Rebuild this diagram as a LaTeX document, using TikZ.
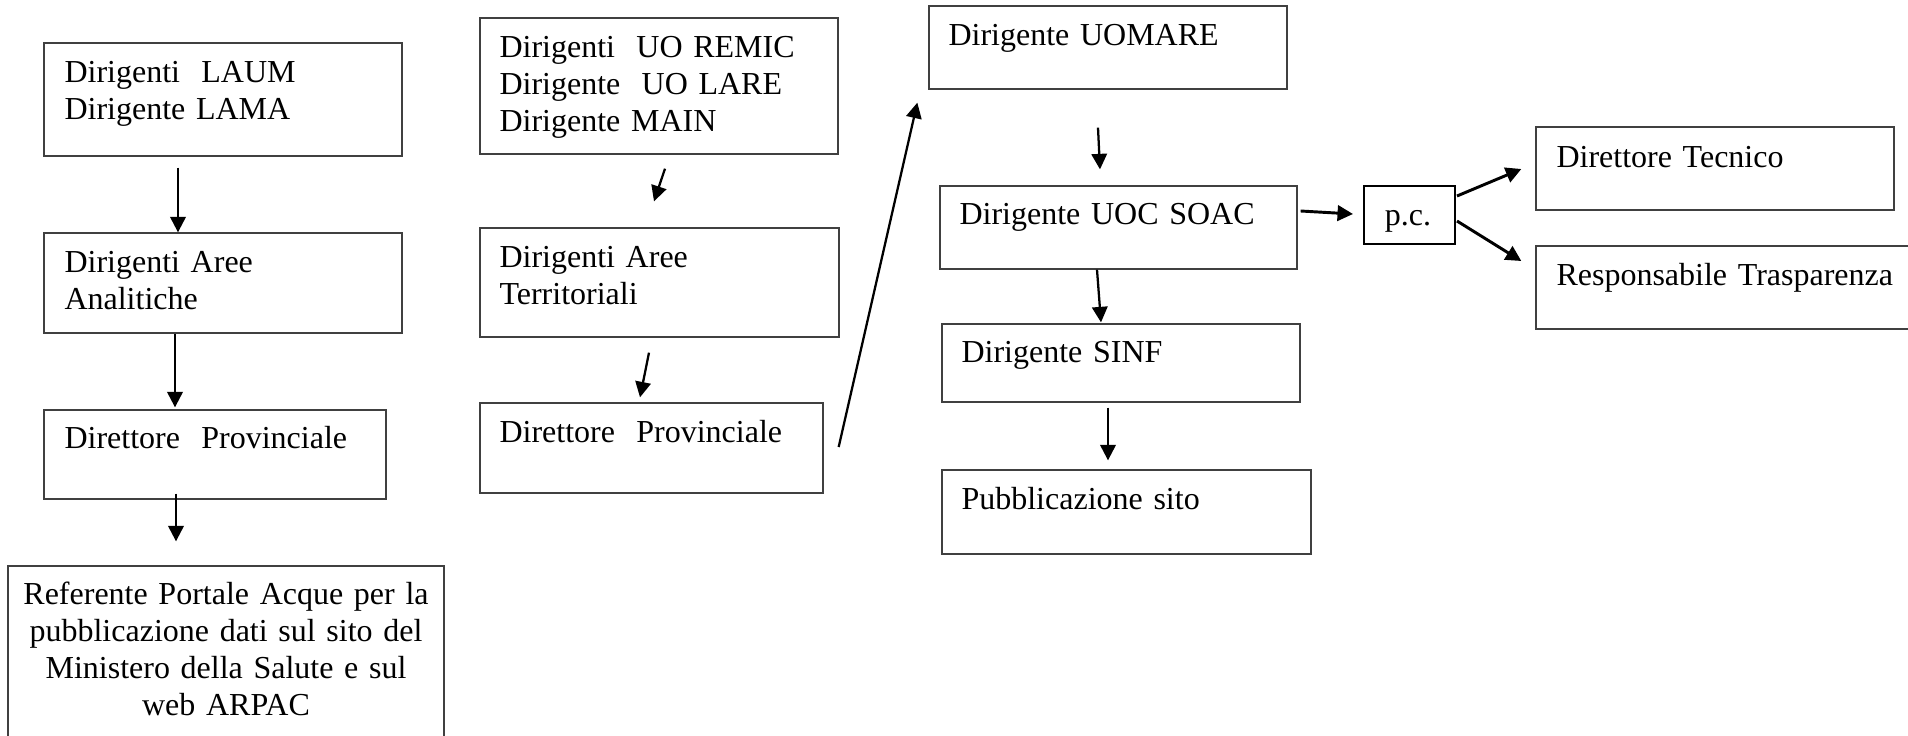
\documentclass[tikz,border=0pt]{standalone}
\usepackage{fontspec}
\setmainfont{Liberation Serif}
\usetikzlibrary{arrows.meta}
\usetikzlibrary{fit}

\begin{document}
\begin{tikzpicture}[x=0.375pt,y=-0.375pt,
    box/.style={draw=black!75, line width=0.5pt, inner sep=0pt},
    txt/.style={anchor=base west, inner sep=0pt, text width=150pt, align=left,
        font=\fontsize{12pt}{13.9pt}\selectfont},
    txtc/.style={anchor=base, inner sep=0pt, text width=160pt, align=center,
        font=\fontsize{12pt}{13.9pt}\selectfont},
    arr/.style={line width=0.85pt, -{Triangle[length=5.8pt,width=5.8pt]}}]
    \useasboundingbox (0,0) rectangle (1908,736);
    % draw boxes
    \node[box, fit={(44,43) (402,156)}] (laum) {};%col 1
    \node[box, fit={(44,233) (402,333)}] (analit) {};
    \node[box, fit={(44,410) (386,499)}] (provA) {};
    \node[box, fit={(8,566) (444,800)}] (referente) {};
    \node[box, fit={(480,18) (838,154)}] (remic) {};%col 2
    \node[box, fit={(480,228) (839,337)}] (terr) {};
    \node[box, fit={(480,403) (823,493)}] (provB) {};
    \node[box, fit={(929,6) (1287,89)}] (uomare) {};%col 3
    \node[box, fit={(940,186) (1297,269)}] (soac) {};
    \node[box, fit={(942,324) (1300,402)}] (sinf) {};
    \node[box, fit={(942,470) (1311,554)}] (pubb) {};
    \node[box, draw=black, line width=0.75pt, fit={(1364,186) (1455,244)}] (pc) {};%p.c.
    \node[box, fit={(1536,127) (1894,210)}] (dtec) {};
    \node[box, fit={(1536,246) (1930,329)}] (resp) {};
    % labels boxes
    \node[txt] (laumtext) at (64,82) {Dirigenti~ LAUM\\Dirigente LAMA};
    \node[txt] (analittext) at (64,272) {Dirigenti Aree\\Analitiche};
    \node[txt] (provAtext) at (64,448) {Direttore~ Provinciale};
    \node[txtc] (referentetext) at (226,604) {Referente Portale Acque per la\\pubblicazione dati sul sito del\\Ministero della Salute e sul\\web ARPAC};
    \node[txt] (remictext) at (499,57) {Dirigenti~ UO REMIC\\Dirigente~ UO LARE\\Dirigente MAIN};
    \node[txt] (terrtext) at (499,267) {Dirigenti Aree\\Territoriali};
    \node[txt] (provBtext) at (499,442) {Direttore~ Provinciale};
    \node[txt] (uomaretext) at (948,45) {Dirigente UOMARE};
    \node[txt] (soactext) at (959,224) {Dirigente UOC SOAC};
    \node[txt] (sinftext) at (961,362) {Dirigente SINF};
    \node[txt] (pubbtext) at (961,509) {Pubblicazione sito};
    \node[txtc] (pctext) at (1408,225) {p.c.};
    \node[txt] (dtectext) at (1556,167) {Direttore Tecnico};
    \node[txt] (resptext) at (1556,285) {Responsabile Trasparenza};
    % draw arrows
    \draw[arr] ([shift={(-45,11)}]laum.south) -- ([shift={(-45,0)}]analit.north);
    \draw[arr] ([shift={(-48,0)}]analit.south) -- ([shift={(-40,-2)}]provA.north);
    \draw[arr] ([shift={(-39,-6)}]provA.south) -- ([shift={(-50,-24)}]referente.north);
    \draw[arr] ([shift={(6,14)}]remic.south) -- ([shift={(-5.5,-26)}]terr.north);
    \draw[arr] ([shift={(-10.5,15)}]terr.south) -- ([shift={(-11.5,-5)}]provB.north);
    \draw[arr] ([shift={(15,-1)}]provB.east) -- ([shift={(-11,13)}]uomare.south west);
    \draw[arr] ([shift={(-10,38)}]uomare.south) -- ([shift={(-18.5,-16)}]soac.north);
    \draw[arr] ([shift={(-21.5,0)}]soac.south) -- ([shift={(-20,-1)}]sinf.north);
    \draw[arr] ([shift={(-13,5)}]sinf.south) -- ([shift={(-18.5,-9)}]pubb.north);
    \draw[arr, line width=1.1pt] ([shift={(3,-16.5)}]soac.east) -- ([shift={(-10,-1)}]pc.west);
    \draw[arr, line width=1.1pt] ([shift={(1,-19)}]pc.east) -- ([shift={(-14,0.5)}]dtec.west);
    \draw[arr, line width=1.1pt] ([shift={(1,6)}]pc.east) -- ([shift={(-14,-26.5)}]resp.west);
\end{tikzpicture}
\end{document}
